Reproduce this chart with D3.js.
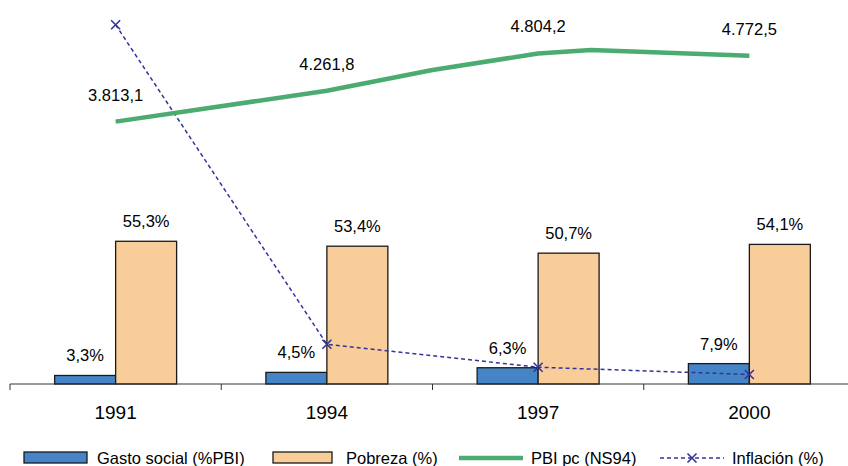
<!DOCTYPE html>
<html>
<head>
<meta charset="utf-8">
<script src="https://cdn.jsdelivr.net/npm/d3@7"></script>
<style>
  html, body { margin: 0; padding: 0; background: #fff; }
  svg { display: block; }
  text { font-family: "Liberation Sans", Arial, sans-serif; fill: #000; }
</style>
</head>
<body>
<svg id="chart" width="848" height="466"></svg>
<script>
// ---- data ----
const categories = ["1991", "1994", "1997", "2000"];
const seriesNames = ["Gasto social (%PBI)", "Pobreza (%)", "PBI pc (NS94)", "Inflación (%)"];
const gastoSocial = [3.3, 4.5, 6.3, 7.9];
const pobreza = [55.3, 53.4, 50.7, 54.1];
const inflacion = [139.2, 15.4, 6.5, 3.7];
// PBI pc line (year positions, values in NS94)
const pbiYears = [1991, 1994, 1995.5, 1997, 1997.75, 2000];
const pbiValues = [3813.1, 4261.8, 4564, 4804.2, 4855, 4772.5];
const pbiLabelYears = [1991, 1994, 1997, 2000];
const pbiLabelValues = [3813.1, 4261.8, 4804.2, 4772.5];

const fmtPct = v => d3.format(".1f")(v).replace(".", ",") + "%";
const fmtNum = v => {
  const s = d3.format(",.1f")(v); // 4,261.8
  return s.replace(/,/g, "#").replace(".", ",").replace(/#/g, ".");
};

const colors = { gasto: "#4584c6", pobreza: "#f9cd9a", pbi: "#4cab70", infl: "#333399" };

const svg = d3.select("#chart");
const baseY = 384;

// scales
const x = d3.scaleBand().domain(categories).range([10, 855]).paddingInner(0).paddingOuter(0);
const xs = d3.scaleBand().domain(["gasto", "pobreza"]).range([0, x.bandwidth()]).paddingInner(0).paddingOuter(0.732);
const y = d3.scaleLinear().domain([0, 148.8]).range([baseY, 0]);
const y2 = d3.scaleLinear().domain([0, 5581]).range([baseY, 0]);
const xYear = d3.scaleLinear()
  .domain([+categories[0], +categories[categories.length - 1]])
  .range([x(categories[0]) + x.bandwidth() / 2, x(categories[categories.length - 1]) + x.bandwidth() / 2]);

const fontSize = 16.5;

// bars
const barData = [];
categories.forEach((c, i) => {
  barData.push({ c, key: "gasto", v: gastoSocial[i] });
  barData.push({ c, key: "pobreza", v: pobreza[i] });
});

svg.append("g").selectAll("rect").data(barData).join("rect")
  .attr("x", d => x(d.c) + xs(d.key))
  .attr("y", d => y(d.v))
  .attr("width", xs.bandwidth())
  .attr("height", d => baseY - y(d.v))
  .attr("fill", d => colors[d.key])
  .attr("stroke", "#1a1a1a")
  .attr("stroke-width", 1.3);

svg.append("g").selectAll("text").data(barData).join("text")
  .attr("x", d => x(d.c) + xs(d.key) + xs.bandwidth() / 2)
  .attr("y", d => y(d.v) - 14)
  .attr("text-anchor", "middle")
  .attr("font-size", fontSize)
  .text(d => fmtPct(d.v));

// x axis
const axisG = svg.append("g").attr("transform", `translate(0,${baseY})`);
axisG.append("line").attr("x1", 10).attr("x2", 855).attr("y1", 0).attr("y2", 0)
  .attr("stroke", "#333").attr("stroke-width", 1);
const tickXs = categories.map(c => x(c)).concat([x.range()[1]]);
axisG.selectAll("line.tick").data(tickXs).join("line").attr("class", "tick")
  .attr("x1", d => d).attr("x2", d => d).attr("y1", 0).attr("y2", 6)
  .attr("stroke", "#333").attr("stroke-width", 1);
axisG.selectAll("text").data(categories).join("text")
  .attr("x", d => x(d) + x.bandwidth() / 2)
  .attr("y", 35)
  .attr("text-anchor", "middle")
  .attr("font-size", 19)
  .text(d => d);

// inflation line
const inflPts = categories.map((c, i) => ({ x: x(c) + x.bandwidth() / 2, y: y(inflacion[i]) }));
svg.append("path")
  .attr("d", d3.line().x(d => d.x).y(d => d.y)(inflPts))
  .attr("fill", "none")
  .attr("stroke", colors.infl)
  .attr("stroke-width", 1.5)
  .attr("stroke-dasharray", "4,3");

function drawX(g, cx, cy, s) {
  g.append("path")
    .attr("d", `M${cx - s},${cy - s}L${cx + s},${cy + s}M${cx - s},${cy + s}L${cx + s},${cy - s}`)
    .attr("stroke", colors.infl).attr("stroke-width", 1.6).attr("fill", "none");
}
const mg = svg.append("g");
inflPts.forEach(p => drawX(mg, p.x, p.y, 4.5));

// PBI line
const pbiPts = pbiYears.map((yr, i) => [xYear(yr), y2(pbiValues[i])]);
svg.append("path")
  .attr("d", d3.line()(pbiPts))
  .attr("fill", "none")
  .attr("stroke", colors.pbi)
  .attr("stroke-width", 4.5)
  .attr("stroke-linejoin", "round");

svg.append("g").selectAll("text").data(pbiLabelYears.map((yr, i) => ({ yr, v: pbiLabelValues[i] }))).join("text")
  .attr("x", d => xYear(d.yr))
  .attr("y", d => y2(d.v) - 21)
  .attr("text-anchor", "middle")
  .attr("font-size", fontSize)
  .text(d => fmtNum(d.v));

// legend
const lg = svg.append("g");
const legY = 458;
// gasto
lg.append("rect").attr("x", 24).attr("y", legY - 6).attr("width", 63).attr("height", 11)
  .attr("fill", colors.gasto).attr("stroke", "#1a1a1a").attr("stroke-width", 1.3);
lg.append("text").attr("x", 97).attr("y", legY + 6).attr("font-size", fontSize).text(seriesNames[0]);
// pobreza
lg.append("rect").attr("x", 273).attr("y", legY - 6).attr("width", 59).attr("height", 11)
  .attr("fill", colors.pobreza).attr("stroke", "#1a1a1a").attr("stroke-width", 1.3);
lg.append("text").attr("x", 346).attr("y", legY + 6).attr("font-size", fontSize).text(seriesNames[1]);
// pbi
lg.append("line").attr("x1", 459).attr("x2", 523).attr("y1", legY).attr("y2", legY)
  .attr("stroke", colors.pbi).attr("stroke-width", 4.5);
lg.append("text").attr("x", 531).attr("y", legY + 6).attr("font-size", fontSize).text(seriesNames[2]);
// inflacion
lg.append("line").attr("x1", 660).attr("x2", 724).attr("y1", legY).attr("y2", legY)
  .attr("stroke", colors.infl).attr("stroke-width", 1.5).attr("stroke-dasharray", "4,3");
drawX(lg, 692, legY, 4.5);
lg.append("text").attr("x", 732).attr("y", legY + 6).attr("font-size", fontSize).text(seriesNames[3]);
</script>
</body>
</html>
